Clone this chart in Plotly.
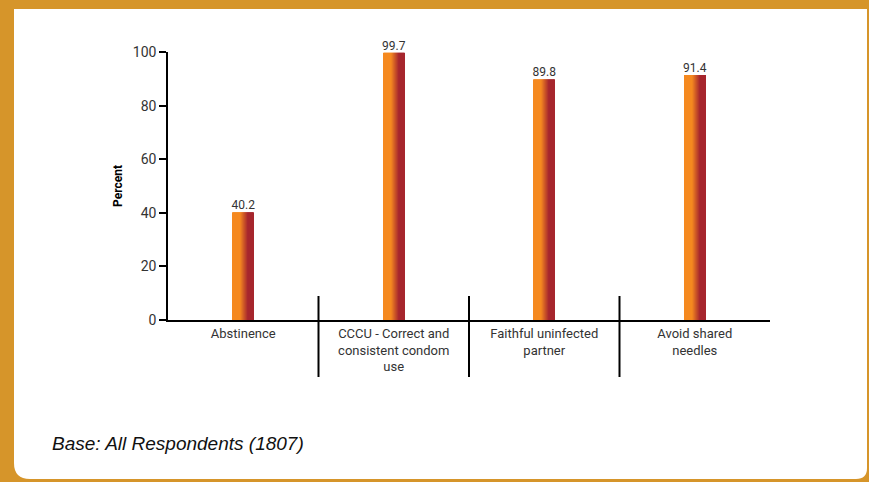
import plotly.graph_objects as go

categories = ["Abstinence",
              "CCCU - Correct and<br>consistent condom<br>use",
              "Faithful uninfected<br>partner",
              "Avoid shared<br>needles"]
values = [40.2, 99.7, 89.8, 91.4]
y_ticks = [0, 20, 40, 60, 80, 100]
footnote = "Base: All Respondents (1807)"
y_title = "Percent"

W, H = 869, 482
L, R, T, B = 168, 770, 52, 320
pw, ph = R - L, B - T

def px(x):
    return (x - L) / pw

def py(y):
    return (B - y) / ph

FONT = "Roboto, Liberation Sans, Arial, sans-serif"

fig = go.Figure()

# gradient bars as thin slices
orange = (245, 137, 31)
red = (166, 38, 45)
n = 21
bar_w = 0.14
step = bar_w / n
for i in range(n):
    t = (i + 0.5) / n
    s = min(max((t - 0.38) / 0.37, 0), 1)
    c = tuple(round(orange[k] + (red[k] - orange[k]) * s) for k in range(3))
    fig.add_trace(go.Bar(
        x=categories, y=values,
        offset=-bar_w / 2 + i * step, width=step * 1.3 if i < n - 1 else step,
        marker=dict(color="rgb(%d,%d,%d)" % c, line=dict(width=0)),
        hoverinfo="skip", showlegend=False))

fig.add_trace(go.Scatter(
    x=categories, y=values, mode="text",
    text=["%.1f" % v for v in values], textposition="top center",
    textfont=dict(family=FONT, size=12, color="#333333"),
    cliponaxis=False, showlegend=False, hoverinfo="skip"))

shapes = []
# white panel with rounded bottom corners
x0, y0, x1, y1 = 14, 9, 867, 479
rl, rr = 16, 11
path = (f"M {px(x0)} {py(y0)} L {px(x1)} {py(y0)} L {px(x1)} {py(y1 - rr)} "
        f"Q {px(x1)} {py(y1)} {px(x1 - rr)} {py(y1)} "
        f"L {px(x0 + rl)} {py(y1)} Q {px(x0)} {py(y1)} {px(x0)} {py(y1 - rl)} Z")
shapes.append(dict(type="path", path=path, xref="paper", yref="paper",
                   fillcolor="white", line=dict(width=0), layer="below"))
# category separators
for k in range(1, len(categories)):
    shapes.append(dict(type="line", xref="x", yref="paper",
                       x0=k - 0.5, x1=k - 0.5, y0=py(296), y1=py(377),
                       line=dict(color="black", width=2)))

annotations = [
    dict(text=y_title, x=px(118), y=py(186), xref="paper", yref="paper",
         xanchor="center", yanchor="middle",
         showarrow=False, textangle=-90,
         font=dict(family=FONT, size=12, color="black", weight="bold")),
    dict(text=f"<i>{footnote}</i>", x=px(50), y=py(443), xref="paper", yref="paper",
         xanchor="left", yanchor="middle", showarrow=False,
         font=dict(family="Liberation Sans, Arial, sans-serif", size=19, color="#111111")),
]

fig.update_layout(
    width=W, height=H,
    margin=dict(l=L, r=W - R, t=T, b=H - B, pad=0),
    paper_bgcolor="#D6952A", plot_bgcolor="rgba(0,0,0,0)",
    barmode="overlay", showlegend=False,
    shapes=shapes, annotations=annotations,
    xaxis=dict(range=[-0.5, 3.5], showgrid=False, zeroline=False,
               showline=True, linecolor="black", linewidth=2,
               ticks="", tickfont=dict(family=FONT, size=13, color="#333333"),
               fixedrange=True),
    yaxis=dict(range=[0, 100], tickvals=y_ticks, showgrid=False, zeroline=False,
               showline=True, linecolor="black", linewidth=1.5,
               ticks="outside", ticklen=7, tickwidth=1.5, tickcolor="black",
               tickfont=dict(family=FONT, size=14, color="#333333"),
               fixedrange=True),
)

fig.write_html("out.html", config={"displayModeBar": False},
               post_script="document.body.style.margin='0';document.body.style.overflow='hidden';")
